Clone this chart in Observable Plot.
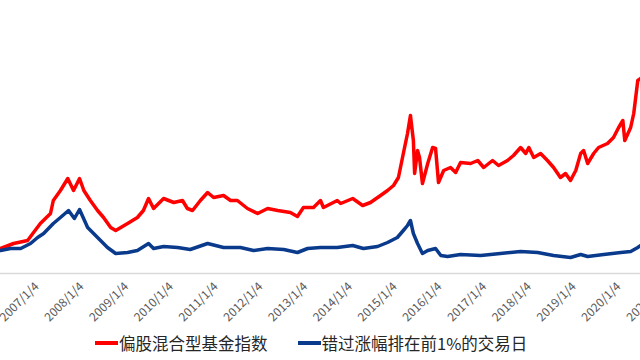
<!DOCTYPE html>
<html>
<head>
<meta charset="utf-8">
<script src="https://cdn.jsdelivr.net/npm/d3@7"></script>
<script src="https://cdn.jsdelivr.net/npm/@observablehq/plot@0.6"></script>
<style>
  html, body { margin: 0; padding: 0; background: #fff; }
  #wrap { width: 640px; height: 360px; overflow: hidden; position: relative; }
  #chart svg { max-width: none !important; display: block; }
  #legend { position: absolute; left: 95px; top: 325px; height: 36px; display: flex; align-items: center;
            font-family: "Noto Sans CJK SC", sans-serif; font-size: 16.5px; color: #262626; white-space: nowrap; }
  .item { display: flex; align-items: center; margin-right: 30px; }
  .sw { width: 23px; height: 3.5px; margin-right: 1px; }
</style>
</head>
<body>
<div id="wrap">
  <div id="chart"></div>
  <div id="legend"></div>
</div>
<script>
const seriesNames = ["偏股混合型基金指数", "错过涨幅排在前1%的交易日"];
const seriesColors = ["#ff0000", "#0a3a8c"];

const redDates = ["2006-03-13","2006-06-28","2006-10-20","2006-12-20","2007-02-01","2007-04-25","2007-05-18","2007-07-15","2007-09-13","2007-10-30","2007-12-18","2008-01-22","2008-03-15","2008-05-13","2008-07-01","2008-08-28","2008-10-08","2009-01-13","2009-04-03","2009-05-22","2009-07-03","2009-08-13","2009-11-03","2010-01-25","2010-04-06","2010-05-16","2010-06-27","2010-08-30","2010-10-28","2010-12-16","2011-03-07","2011-05-03","2011-06-28","2011-09-18","2011-12-10","2012-03-01","2012-05-22","2012-09-02","2012-10-30","2012-12-18","2013-03-10","2013-05-06","2013-05-30","2013-09-20","2013-10-18","2014-01-24","2014-04-15","2014-06-18","2014-09-08","2014-11-04","2014-12-23","2015-02-01","2015-03-13","2015-04-16","2015-05-10","2015-06-03","2015-06-13","2015-07-07","2015-07-23","2015-08-16","2015-09-28","2015-11-07","2015-12-01","2015-12-25","2016-02-05","2016-04-01","2016-05-13","2016-06-22","2016-09-12","2016-11-09","2016-12-28","2017-03-10","2017-04-28","2017-07-10","2017-08-28","2017-10-25","2017-12-06","2017-12-31","2018-02-09","2018-04-06","2018-06-01","2018-07-21","2018-09-15","2018-10-27","2018-12-06","2019-01-18","2019-02-27","2019-03-23","2019-04-25","2019-06-13","2019-07-23","2019-10-04","2019-11-22","2020-01-03","2020-02-06","2020-02-22","2020-04-10","2020-05-05","2020-06-07","2020-07-01","2020-09-15","2021-01-04","2021-02-10"];
const redValues = [1.25,1.5,1.65,2.15,2.5,3.0,3.65,4.15,4.75,4.15,4.75,4.15,3.65,3.15,2.8,2.3,2.15,2.5,2.8,3.15,3.75,3.25,3.75,3.55,3.65,3.25,3.15,3.65,4.05,3.8,3.9,3.65,3.65,3.25,3.0,3.25,3.15,3.05,2.85,3.3,3.3,3.65,3.3,3.65,3.5,3.75,3.4,3.55,3.9,4.15,4.4,4.8,6.0,7.0,7.9,6.65,5.0,6.15,5.8,4.5,5.5,6.3,6.25,4.55,5.15,5.3,5.05,5.55,5.5,5.65,5.3,5.65,5.4,5.65,5.9,6.3,6.0,6.3,5.8,6.0,5.65,5.3,4.8,5.0,4.65,5.15,6.0,6.15,5.5,6.0,6.3,6.5,6.8,7.3,7.65,6.65,7.3,8.0,9.65,9.75,10.4,12.0,12.8];

const blueDates = ["2006-03-13","2006-06-03","2006-08-25","2006-11-13","2007-01-10","2007-02-28","2007-05-18","2007-07-15","2007-09-19","2007-11-06","2007-12-18","2008-02-22","2008-05-13","2008-08-02","2008-10-08","2009-01-13","2009-04-03","2009-07-03","2009-08-13","2009-11-03","2010-02-25","2010-06-08","2010-10-28","2011-03-07","2011-07-22","2011-11-07","2012-03-01","2012-07-10","2012-10-30","2013-01-21","2013-05-06","2013-09-20","2014-01-24","2014-04-21","2014-08-15","2014-11-04","2015-01-23","2015-03-13","2015-04-16","2015-05-10","2015-06-03","2015-07-07","2015-08-16","2015-09-28","2015-12-01","2016-01-13","2016-03-08","2016-06-22","2016-12-03","2017-05-13","2017-10-25","2018-03-13","2018-07-21","2018-12-06","2019-02-27","2019-04-25","2019-09-03","2020-01-21","2020-04-10","2020-06-07","2020-07-01","2020-10-15","2021-02-10"];
const blueValues = [1.15,1.25,1.25,1.5,1.8,2.0,2.5,2.8,3.15,2.75,3.2,2.3,1.8,1.3,1.0,1.05,1.15,1.5,1.25,1.35,1.3,1.2,1.5,1.3,1.3,1.15,1.25,1.2,1.05,1.25,1.3,1.3,1.4,1.25,1.35,1.55,1.8,2.15,2.4,2.65,2.0,1.5,1.0,1.15,1.25,0.9,0.85,0.95,0.9,1.0,1.1,1.05,0.9,0.8,0.95,0.85,0.95,1.05,1.1,1.3,1.4,1.45,1.6];

const tickDates = ["2007-01-04","2008-01-04","2009-01-04","2010-01-04","2011-01-04","2012-01-04","2013-01-04","2014-01-04","2015-01-04","2016-01-04","2017-01-04","2018-01-04","2019-01-04","2020-01-04","2021-01-04"];
const xDomain = ["2006-03-13", "2022-04-13"];
const yDomain = [0, 13.65];

const parse = d3.utcParse("%Y-%m-%d");
const data = [
  ...redDates.map((d, i) => ({date: parse(d), value: redValues[i], series: seriesNames[0]})),
  ...blueDates.map((d, i) => ({date: parse(d), value: blueValues[i], series: seriesNames[1]}))
];
const fmt = d => `${d.getUTCFullYear()}/${d.getUTCMonth() + 1}/${d.getUTCDate()}`;

const chart = Plot.plot({
  width: 720,
  height: 340,
  marginLeft: 0,
  marginRight: 0,
  marginTop: 0,
  marginBottom: 67,
  style: {fontFamily: "'Noto Sans CJK SC', sans-serif", fontSize: "12px", color: "#595959", maxWidth: "none", background: "#fff"},
  x: {type: "utc", domain: xDomain.map(parse)},
  y: {domain: yDomain, axis: null},
  color: {domain: seriesNames, range: seriesColors},
  marks: [
    Plot.ruleY([0], {stroke: "#d9d9d9", strokeWidth: 1.5}),
    Plot.axisX({ticks: tickDates.map(parse), tickFormat: fmt, tickRotate: -45, tickSize: 0, tickPadding: 11, fill: "#595959"}),
    Plot.lineY(data, {x: "date", y: "value", z: "series", stroke: "series", strokeWidth: 3.5, strokeLinejoin: "round"})
  ]
});
document.getElementById("chart").appendChild(chart);

const legend = document.getElementById("legend");
seriesNames.forEach((name, i) => {
  const item = document.createElement("div");
  item.className = "item";
  const sw = document.createElement("span");
  sw.className = "sw";
  sw.style.background = seriesColors[i];
  const t = document.createElement("span");
  t.textContent = name;
  item.appendChild(sw);
  item.appendChild(t);
  legend.appendChild(item);
});
</script>
</body>
</html>
